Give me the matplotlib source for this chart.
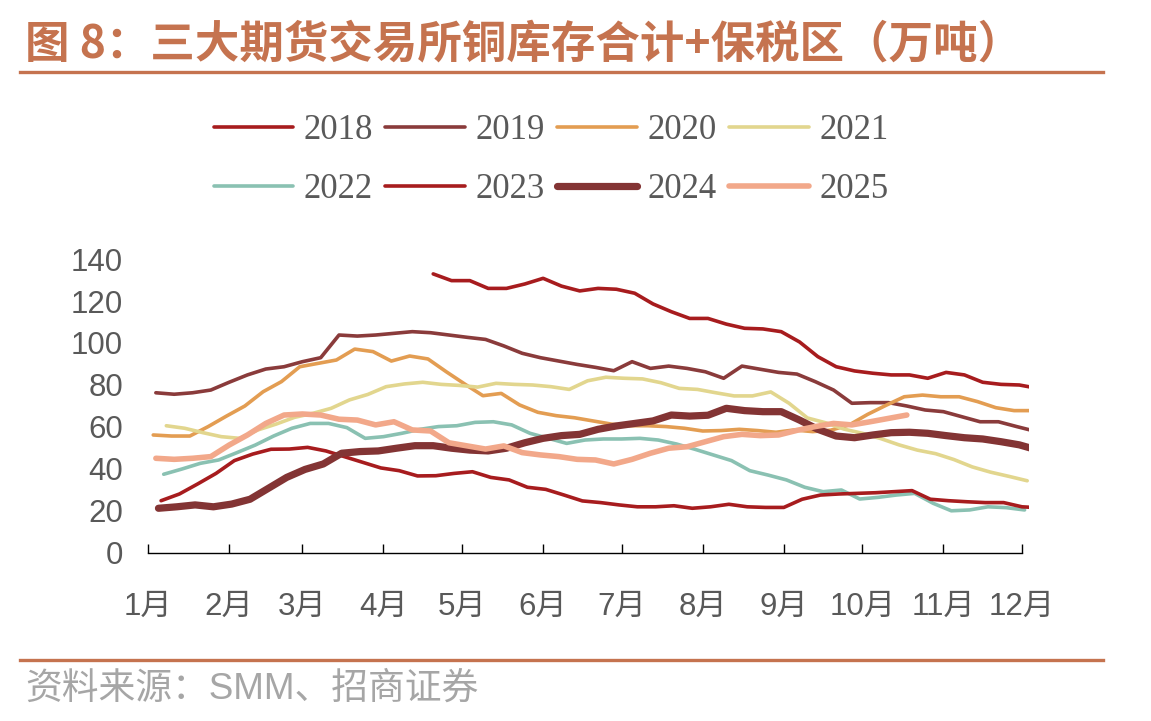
import matplotlib
matplotlib.use('Agg')
import matplotlib.pyplot as plt
import pandas as pd
import numpy as np
from matplotlib.lines import Line2D

# ---------------- data ----------------
years = ['2018', '2019', '2020', '2021', '2022', '2023', '2024', '2025']
start_dates = ['2018-04-20', '2019-01-04', '2020-01-03', '2021-01-08',
               '2022-01-07', '2023-01-06', '2024-01-05', '2025-01-04']

s2018 = [132.9, 129.7, 129.7, 126.0, 126.0, 128.1, 130.8, 127.1, 124.8, 126.0,
         125.6, 123.7, 118.6, 114.9, 111.7, 111.7, 109.0, 107.0, 106.7, 105.4,
         100.5, 93.5, 88.7, 86.7, 85.6, 84.8, 84.8, 83.2, 86.0, 84.8,
         81.3, 80.3, 80.0, 78.4]
s2019 = [76.3, 75.6, 76.3, 77.6, 81.3, 84.8, 87.6, 88.7, 91.1, 93.0,
         103.8, 103.3, 103.8, 104.6, 105.4, 104.9, 103.8, 102.7, 101.7, 98.6,
         95.1, 93.0, 91.4, 89.8, 88.4, 86.8, 91.1, 87.9, 89.0, 87.9,
         86.3, 83.2, 89.0, 87.5, 86.0, 85.2, 81.6, 77.6, 71.3, 71.6,
         71.6, 70.0, 68.1, 67.3, 64.9, 62.5, 62.5, 60.2, 58.0]
s2020 = [56.2, 55.7, 55.7, 60.2, 65.2, 70.0, 76.8, 81.6, 88.7, 90.3,
         91.9, 97.1, 95.9, 91.4, 93.8, 92.4, 86.3, 80.5, 74.9, 76.0,
         70.5, 67.0, 65.4, 64.4, 62.9, 61.4, 60.6, 60.6, 60.2, 59.4,
         58.1, 58.3, 58.9, 58.3, 57.5, 58.6, 57.8, 58.5, 61.0, 66.0,
         70.3, 74.4, 75.2, 74.4, 74.4, 72.1, 69.2, 67.8, 67.8]
s2021 = [60.6, 59.4, 57.3, 55.4, 54.6, 58.6, 61.4, 64.6, 66.5, 68.9,
         72.9, 75.5, 79.2, 80.5, 81.3, 80.3, 79.8, 79.0, 80.8, 80.3,
         80.0, 79.2, 77.9, 82.0, 83.7, 83.2, 82.9, 81.1, 78.4, 77.9,
         76.3, 74.8, 74.8, 76.7, 71.3, 64.3, 62.0, 59.0, 57.0, 54.5,
         51.5, 49.0, 47.3, 44.5, 41.0, 38.5, 36.5, 34.4]
s2022 = [37.5, 40.0, 42.7, 44.3, 47.8, 51.4, 55.7, 59.4, 61.7, 61.7,
         59.7, 54.6, 55.4, 57.0, 58.9, 60.2, 60.6, 62.2, 62.5, 61.0,
         57.0, 54.6, 52.2, 53.8, 54.3, 54.3, 54.6, 53.8, 51.9, 49.4,
         46.7, 44.0, 39.2, 37.1, 34.8, 31.3, 29.2, 30.0, 25.7, 26.5,
         27.6, 28.4, 23.7, 20.1, 20.5, 22.0, 21.6, 20.5]
s2023 = [24.9, 28.1, 32.9, 37.9, 44.0, 47.1, 49.4, 49.5, 50.3, 48.6,
         45.9, 43.2, 40.5, 39.2, 36.7, 36.8, 37.9, 38.7, 36.0, 34.8,
         31.3, 30.3, 27.6, 24.8, 24.0, 22.9, 22.0, 22.0, 22.5, 21.3,
         22.0, 23.2, 22.0, 21.7, 21.7, 25.6, 27.6, 28.1, 28.4, 28.7,
         29.2, 29.7, 25.6, 24.9, 24.4, 24.0, 24.0, 22.0, 21.5]
s2024 = [21.3, 22.0, 22.9, 22.0, 23.3, 25.6, 30.8, 36.0, 39.8, 42.4,
         47.5, 48.3, 48.6, 49.9, 51.1, 51.1, 49.9, 49.0, 48.6, 49.9,
         52.5, 54.6, 55.9, 56.5, 58.9, 60.5, 61.7, 62.9, 65.7, 65.2,
         65.6, 68.9, 67.8, 67.3, 67.3, 63.3, 58.9, 55.7, 54.9, 56.2,
         57.3, 57.5, 57.0, 55.9, 54.9, 54.3, 53.0, 51.5, 49.0]
s2025 = [45.1, 44.6, 45.1, 45.9, 51.4, 56.2, 61.7, 65.7, 66.2, 65.7,
         63.7, 63.3, 61.0, 62.5, 58.6, 58.1, 52.5, 51.0, 49.5, 51.0,
         47.8, 46.7, 45.9, 44.6, 44.3, 42.4, 44.6, 47.5, 49.9, 50.6,
         53.0, 55.4, 56.5, 55.9, 56.2, 58.4, 60.2, 61.7, 61.0, 62.5,
         64.1, 65.7]
series = [s2018, s2019, s2020, s2021, s2022, s2023, s2024, s2025]

month_labels = ['1月', '2月', '3月', '4月', '5月', '6月', '7月', '8月',
                '9月', '10月', '11月', '12月']
y_ticks = [0, 20, 40, 60, 80, 100, 120, 140]

title = '图 8：三大期货交易所铜库存合计+保税区（万吨）'
source = '资料来源：SMM、招商证券'

# ---------------- style ----------------
colors = ['#A71C1E', '#8A3B3B', '#E39D52', '#E2D68E', '#8AC1B2',
          '#A71C1E', '#833434', '#F2A88A']
widths = [2.6, 2.6, 2.6, 2.6, 2.6, 2.6, 5.2, 4.0]
accent = '#C5734F'
grey = '#595959'
W, H = 1151, 721

fig = plt.figure(figsize=(W / 100, H / 100), dpi=100)
ax = fig.add_axes([148 / W, (H - 553) / H, 880.5 / W, 294 / H])

handles = []
for yr, sd, vals, c, lw in zip(years, start_dates, series, colors, widths):
    start = pd.Timestamp(sd).dayofyear - 1
    x = start + 7 * np.arange(len(vals))
    h, = ax.plot(x, vals, color=c, lw=lw, label=yr,
                 solid_capstyle='round', solid_joinstyle='round')
    handles.append(h)

month_pos = list(pd.date_range('2021-01-01', periods=12, freq='MS').dayofyear - 1)
ax.set_xlim(0, 336.5)
ax.set_ylim(0, 140)
ax.set_xticks(month_pos)
ax.set_xticklabels(month_labels)
ax.set_yticks(y_ticks)

tick_font = ['Liberation Sans', 'Noto Sans CJK SC']
for lab in ax.get_xticklabels() + ax.get_yticklabels():
    lab.set_family(tick_font)
    lab.set_fontsize(22.5)
    lab.set_color(grey)

ax.tick_params(axis='x', direction='in', length=6.5, width=1.0, pad=28,
               color='black')
ax.tick_params(axis='y', length=0, pad=18)
for s in ['left', 'top', 'right']:
    ax.spines[s].set_visible(False)
ax.spines['bottom'].set_bounds(0, 334)
ax.spines['bottom'].set_linewidth(1.0)
ax.patch.set_alpha(0)

# legend: 2 rows x 4 cols, filled row-wise
ncol = 4
order = [r * ncol + c for c in range(ncol) for r in range(2)]
leg = fig.legend([handles[i] for i in order], [years[i] for i in order],
                 loc='center', bbox_to_anchor=(551 / W, 1 - 160 / H),
                 ncol=ncol, frameon=False,
                 prop={'family': 'Liberation Serif', 'size': 25},
                 handlelength=2.3, handletextpad=0.3, columnspacing=0.35,
                 labelspacing=0.75)
for t in leg.get_texts():
    t.set_color(grey)

# title, rules, source
fig.text(25 / W, 1 - 44 / H, title, ha='left', va='center', fontsize=32,
         fontweight='bold', color=accent, family=['Noto Sans CJK SC', 'DejaVu Sans'])
fig.add_artist(Line2D([20 / W, 1103 / W], [1 - 72 / H] * 2, color=accent, lw=2.4))
fig.add_artist(Line2D([20 / W, 1103 / W], [1 - 660 / H] * 2, color=accent, lw=2.4))
fig.text(25 / W, 1 - 689 / H, source, ha='left', va='center', fontsize=26.5,
         color='#A6A6A6', family=['Liberation Sans', 'Noto Sans CJK SC'])

fig.savefig('out.png', dpi=100)
